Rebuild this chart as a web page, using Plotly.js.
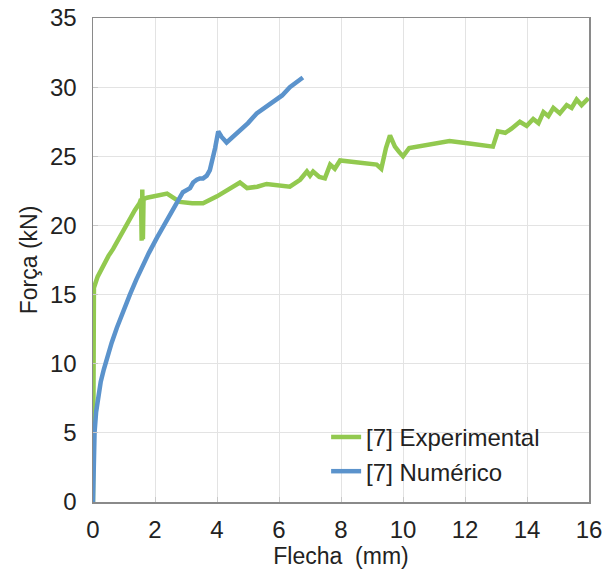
<!DOCTYPE html>
<html>
<head>
<meta charset="utf-8">
<script src="https://cdn.plot.ly/plotly-3.0.1.min.js"></script>
<style>html,body{margin:0;padding:0;background:#fff;}#chart{width:614px;height:577px;}</style>
</head>
<body>
<div id="chart"></div>
<script>
// Experimental curve [7]
const expX = [0, 0, 0.03, 0.15, 0.3, 0.5, 0.65, 0.85, 1.0, 1.19, 1.35, 1.5, 1.55, 1.57, 1.59, 1.61, 1.63, 1.74, 2.0, 2.39, 2.6, 2.8, 3.2, 3.55, 4.0, 4.4, 4.74, 4.97, 5.3, 5.6, 6.0, 6.35, 6.68, 6.9, 7.0, 7.1, 7.3, 7.48, 7.65, 7.8, 7.97, 8.5, 9.0, 9.15, 9.3, 9.45, 9.58, 9.74, 9.88, 10.0, 10.2, 10.45, 11.0, 11.5, 12.2, 12.9, 13.06, 13.3, 13.5, 13.77, 13.99, 14.2, 14.37, 14.53, 14.69, 14.85, 15.06, 15.28, 15.44, 15.6, 15.76, 15.98];
const expY = [0, 15.2, 15.5, 16.3, 17.0, 17.8, 18.3, 19.1, 19.8, 20.6, 21.1, 21.6, 21.9, 18.9, 22.6, 19.0, 21.9, 22.0, 22.1, 22.3, 22.0, 21.7, 21.6, 21.6, 22.1, 22.6, 23.1, 22.7, 22.8, 23.0, 22.9, 22.8, 23.3, 23.9, 23.6, 23.9, 23.5, 23.4, 24.4, 24.1, 24.7, 24.6, 24.5, 24.4, 24.1, 25.6, 26.5, 25.7, 25.3, 25.0, 25.6, 25.7, 25.9, 26.1, 25.9, 25.7, 26.8, 26.7, 27.0, 27.5, 27.2, 27.7, 27.4, 28.2, 27.9, 28.5, 28.1, 28.7, 28.5, 29.1, 28.7, 29.2];
// Numerical curve [7]
const numX = [0, 0.02, 0.05, 0.1, 0.17, 0.25, 0.35, 0.47, 0.6, 0.77, 0.97, 1.19, 1.4, 1.6, 1.8, 2.06, 2.4, 2.7, 2.9, 3.13, 3.23, 3.35, 3.45, 3.55, 3.67, 3.77, 3.88, 3.94, 4.04, 4.15, 4.31, 4.5, 4.74, 5.0, 5.28, 5.55, 5.81, 6.1, 6.35, 6.55, 6.77];
const numY = [0, 3.0, 5.0, 6.5, 7.7, 8.7, 9.6, 10.6, 11.5, 12.6, 13.8, 15.0, 16.1, 17.1, 18.0, 19.1, 20.4, 21.5, 22.4, 22.7, 23.1, 23.3, 23.4, 23.4, 23.6, 24.0, 25.0, 25.6, 26.8, 26.4, 26.0, 26.4, 26.8, 27.4, 28.1, 28.5, 28.9, 29.4, 30.0, 30.3, 30.7];

const xTicks = [0, 2, 4, 6, 8, 10, 12, 14, 16];
const yTicks = [0, 5, 10, 15, 20, 25, 30, 35];

const traces = [
  {x: expX, y: expY, type: 'scatter', mode: 'lines', name: '[7] Experimental',
   line: {color: '#92c94f', width: 4.5}},
  {x: numX, y: numY, type: 'scatter', mode: 'lines', name: '[7] Numérico',
   line: {color: '#5b93cc', width: 4.5}}
];

const FONT = 'Liberation Sans, Arial, sans-serif';
const axisCommon = {
  showgrid: true, gridcolor: '#e3e3e3', gridwidth: 1,
  showline: true, linecolor: '#8a8a8a', linewidth: 1.5, mirror: true,
  zeroline: false, ticks: 'inside', ticklen: 5, tickcolor: '#c8c8c8',
  tickfont: {family: FONT, size: 24, color: '#222'}
};

const layout = {
  width: 614, height: 577,
  margin: {l: 93, r: 25, t: 18, b: 75},
  paper_bgcolor: '#fff', plot_bgcolor: '#fff',
  showlegend: true,
  legend: {x: 0.47, y: 0.18, xanchor: 'left', yanchor: 'top',
    bgcolor: 'rgba(255,255,255,0)', borderwidth: 0,
    font: {family: FONT, size: 24, color: '#222'},
    tracegroupgap: 0, itemwidth: 30},
  xaxis: Object.assign({}, axisCommon, {
    range: [0, 16], tickvals: xTicks, ticktext: xTicks.map(String),
    ticklabelstandoff: 6,
    title: {text: 'Flecha  (mm)', standoff: 0,
      font: {family: FONT, size: 23, color: '#222'}}
  }),
  yaxis: Object.assign({}, axisCommon, {
    range: [0, 35], tickvals: yTicks, ticktext: yTicks.map(String),
    ticklabelstandoff: 10,
    title: {text: 'Força (kN)', standoff: 6,
      font: {family: FONT, size: 23, color: '#222'}}
  })
};

Plotly.newPlot('chart', traces, layout, {displayModeBar: false, staticPlot: true});
</script>
</body>
</html>
